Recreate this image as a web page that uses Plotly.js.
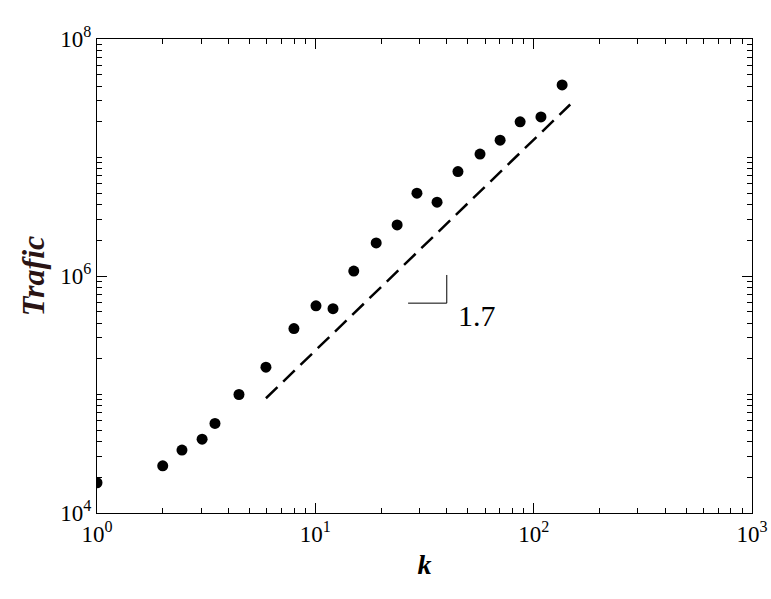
<html><head><script src="https://cdn.plot.ly/plotly-3.0.1.min.js"></script></head><body style="margin:0">
<div id="g" style="width:771px;height:599px"></div>
<script>
const kVals=[1,2.0,2.45,3.03,3.47,4.47,5.94,7.98,10.07,12.05,15.0,19.0,23.7,29.2,36.1,45.0,56.8,70.2,86.7,108,135];
const traffic=[1.8e4,2.5e4,3.4e4,4.2e4,5.7e4,1.0e5,1.7e5,3.6e5,5.6e5,5.3e5,1.1e6,1.9e6,2.7e6,5.0e6,4.2e6,7.6e6,1.07e7,1.4e7,2.0e7,2.2e7,4.1e7];
const fitK=[5.94,147];
const fitY=[9.3e4,2.8e7];
const xTicks=[1,10,100,1000], xLabels=['10<sup>0</sup>','10<sup>1</sup>','10<sup>2</sup>','10<sup>3</sup>'];
const yTicks=[1e4,1e6,1e8], yLabels=['10<sup>4</sup>','10<sup>6</sup>','10<sup>8</sup>'];
const xMinor=[], yMinor=[];
[1,10,100].forEach(d=>{for(let m=2;m<=9;m++)xMinor.push(d*m);});
[1e4,1e5,1e6,1e7].forEach(d=>{for(let m=2;m<=9;m++)yMinor.push(d*m);});
yMinor.push(1e5,1e7);
const ax={type:'log',showgrid:false,zeroline:false,showline:true,mirror:'allticks',linecolor:'#000',linewidth:1,
 ticks:'inside',ticklen:10,tickcolor:'#000',tickfont:{family:'Liberation Serif',size:23,color:'#000'}};
const mx={type:'log',showgrid:false,zeroline:false,showline:false,mirror:'allticks',ticks:'inside',ticklen:5,tickcolor:'#000',showticklabels:false};
Plotly.newPlot('g',[
 {x:kVals,y:traffic,mode:'markers',marker:{color:'#000',size:11},type:'scatter'},
 {x:fitK,y:fitY,mode:'lines',line:{color:'#000',width:2.5,dash:'16px,8px'},type:'scatter'},
 {x:[1],y:[1e4],xaxis:'x2',yaxis:'y2',mode:'markers',marker:{opacity:0},hoverinfo:'skip'}
],{width:771,height:599,showlegend:false,margin:{l:97,r:19,t:39,b:86},
 paper_bgcolor:'#fff',plot_bgcolor:'#fff',
 xaxis:Object.assign({},ax,{range:[0,3],tickvals:xTicks,ticktext:xLabels,
   title:{text:'<b><i>k</i></b>',font:{family:'Liberation Serif',size:28,color:'#000'},standoff:8}}),
 yaxis:Object.assign({},ax,{range:[4,8],tickvals:yTicks,ticktext:yLabels,
   title:{text:'<b><i>Trafic</i></b>',font:{family:'Liberation Serif',size:32,color:'#2a1414'},standoff:6}}),
 xaxis2:Object.assign({},mx,{overlaying:'x',range:[0,3],tickvals:xMinor}),
 yaxis2:Object.assign({},mx,{overlaying:'y',range:[4,8],tickvals:yMinor}),
 shapes:[
  {type:'line',xref:'x',yref:'y',x0:40,x1:40,y0:1.02e6,y1:5.9e5,line:{color:'#000',width:1}},
  {type:'line',xref:'x',yref:'y',x0:26.6,x1:40,y0:5.9e5,y1:5.9e5,line:{color:'#000',width:1}}
 ],
 annotations:[{xref:'x',yref:'y',x:Math.log10(44),y:5.67,text:'1.7',showarrow:false,xanchor:'left',
  font:{family:'Liberation Serif',size:30,color:'#000'}}]
},{displayModeBar:false});
</script></body></html>
